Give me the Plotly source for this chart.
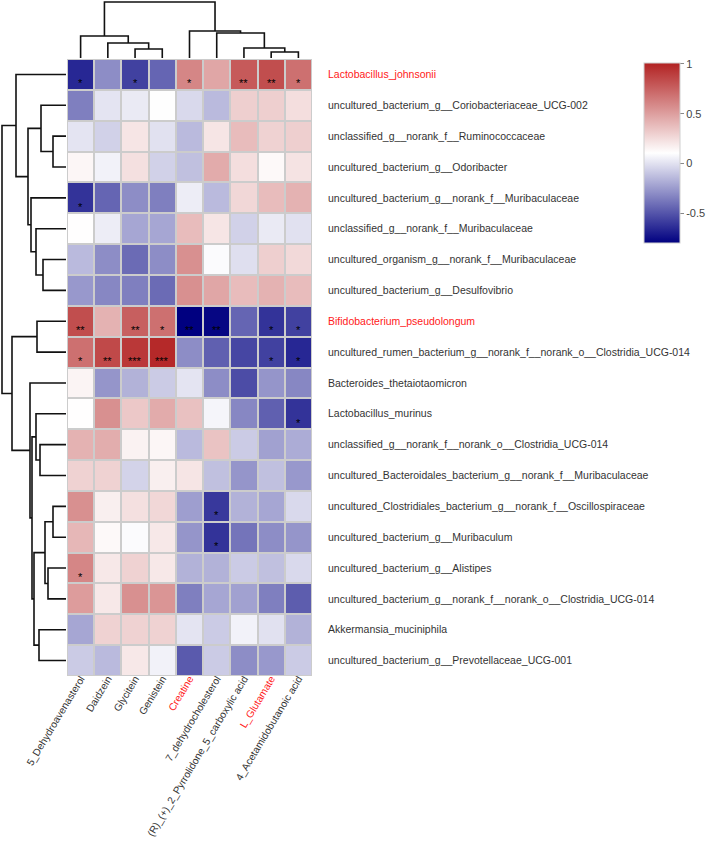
import plotly.graph_objects as go

# --- Data ---
col_labels = [
    "5_Dehydroavenasterol", "Daidzein", "Glycitein", "Genistein", "Creatine",
    "7_dehydrocholesterol", "(R)_(+)_2_Pyrrolidone_5_carboxylic acid",
    "L_Glutamate", "4_Acetamidobutanoic acid",
]
row_labels = [
    "Lactobacillus_johnsonii",
    "uncultured_bacterium_g__Coriobacteriaceae_UCG-002",
    "unclassified_g__norank_f__Ruminococcaceae",
    "uncultured_bacterium_g__Odoribacter",
    "uncultured_bacterium_g__norank_f__Muribaculaceae",
    "unclassified_g__norank_f__Muribaculaceae",
    "uncultured_organism_g__norank_f__Muribaculaceae",
    "uncultured_bacterium_g__Desulfovibrio",
    "Bifidobacterium_pseudolongum",
    "uncultured_rumen_bacterium_g__norank_f__norank_o__Clostridia_UCG-014",
    "Bacteroides_thetaiotaomicron",
    "Lactobacillus_murinus",
    "unclassified_g__norank_f__norank_o__Clostridia_UCG-014",
    "uncultured_Bacteroidales_bacterium_g__norank_f__Muribaculaceae",
    "uncultured_Clostridiales_bacterium_g__norank_f__Oscillospiraceae",
    "uncultured_bacterium_g__Muribaculum",
    "uncultured_bacterium_g__Alistipes",
    "uncultured_bacterium_g__norank_f__norank_o__Clostridia_UCG-014",
    "Akkermansia_muciniphila",
    "uncultured_bacterium_g__Prevotellaceae_UCG-001",
]
red_rows = ["Lactobacillus_johnsonii", "Bifidobacterium_pseudolongum"]
red_cols = ["Creatine", "L_Glutamate"]

corr = [
    [-0.66, -0.30, -0.57, -0.44, 0.60, 0.47, 0.78, 0.83, 0.69],
    [-0.35, 0.01, 0.03, 0.10, -0.03, -0.14, 0.30, 0.30, 0.24],
    [0.01, -0.06, 0.21, 0.00, -0.14, 0.21, 0.38, 0.29, 0.30],
    [0.14, 0.06, 0.23, -0.06, -0.12, 0.45, 0.24, 0.13, 0.22],
    [-0.62, -0.44, -0.30, -0.35, 0.04, -0.14, 0.27, 0.38, 0.42],
    [0.11, 0.04, -0.21, -0.21, 0.38, 0.21, -0.06, 0.03, 0.00],
    [-0.14, -0.30, -0.42, -0.30, 0.56, 0.09, -0.01, 0.30, 0.26],
    [-0.26, -0.32, -0.35, -0.42, 0.56, 0.47, 0.38, 0.42, 0.38],
    [0.83, 0.42, 0.76, 0.69, -0.80, -0.78, -0.44, -0.62, -0.57],
    [0.69, 0.85, 0.92, 0.98, -0.30, -0.46, -0.55, -0.57, -0.66],
    [0.15, -0.27, -0.17, -0.08, 0.01, -0.30, -0.53, -0.27, -0.32],
    [0.11, 0.56, 0.33, 0.45, 0.36, 0.07, -0.32, -0.46, -0.62],
    [0.42, 0.44, 0.16, 0.14, -0.14, 0.35, -0.08, -0.23, -0.19],
    [0.29, 0.29, -0.05, 0.17, 0.21, -0.12, -0.27, -0.12, -0.26],
    [0.56, 0.17, 0.23, 0.27, -0.24, -0.60, -0.17, -0.21, -0.03],
    [0.40, 0.13, 0.09, 0.20, -0.27, -0.62, -0.39, -0.30, -0.27],
    [0.60, 0.20, 0.29, 0.20, -0.17, -0.17, -0.08, -0.12, -0.03],
    [0.51, 0.20, 0.56, 0.54, -0.35, -0.21, -0.23, -0.35, -0.47],
    [-0.21, 0.29, 0.29, 0.29, 0.01, -0.08, 0.06, 0.00, -0.17],
    [-0.08, -0.14, 0.20, 0.06, -0.48, -0.08, -0.30, -0.26, -0.08],
]

# significance marks: (row, col, text)
stars = [
    (0, 0, "*"), (0, 2, "*"), (0, 4, "*"), (0, 6, "**"), (0, 7, "**"), (0, 8, "*"),
    (4, 0, "*"),
    (8, 0, "**"), (8, 2, "**"), (8, 3, "*"), (8, 4, "**"), (8, 5, "**"), (8, 7, "*"), (8, 8, "*"),
    (9, 0, "*"), (9, 1, "**"), (9, 2, "***"), (9, 3, "***"), (9, 7, "*"), (9, 8, "*"),
    (11, 8, "*"),
    (14, 5, "*"),
    (15, 5, "*"),
    (16, 0, "*"),
]

# clustering trees: (left, right, height), leaves are indices
col_tree = ((0, (1, (2, 3, 9), 15), 22), (4, (5, (6, (7, 8, 6), 10), 25), 27), 56)
row_tree = (
    (0, ((1, (2, 3, 13), 25), (4, (5, (6, 7, 23), 30), 35), 38), 50),
    ((8, 9, 29),
     (10, ((11, (12, 13, 26), 30),
           (((14, 15, 13), (16, 17, 18), 21), (18, 19, 27), 32), 34), 36), 54),
    64,
)

W, H = 709, 847
FONT = "Arial, Liberation Sans, sans-serif"


def dendro_segments(node, xs, ys):
    """Walks the tree and collects elbow segments (leaf pos, height)."""
    if isinstance(node, int):
        return float(node), 0.0
    left, right, h = node
    lp, lh = dendro_segments(left, xs, ys)
    rp, rh = dendro_segments(right, xs, ys)
    xs += [lp, lp, rp, rp, None]
    ys += [lh, h, h, rh, None]
    return (lp + rp) / 2, h


def color_label(text, reds):
    if text in reds:
        return f"<span style='color:#ff2020'>{text}</span>"
    return text


# pixel layout
hm_x0, hm_x1 = 67, 312
hm_y0, hm_y1 = 59, 676
n_cols, n_rows = len(col_labels), len(row_labels)

fig = go.Figure()

fig.add_trace(go.Heatmap(
    z=corr,
    x=list(range(n_cols)),
    y=list(range(n_rows)),
    zmin=-0.8, zmax=1.01,
    colorscale=[[0, "#000080"], [0.5, "#ffffff"], [1, "#b22222"]],
    xgap=2, ygap=2,
    hoverinfo="skip",
    colorbar=dict(
        x=644 / W, xanchor="left", xpad=0,
        y=1 - 153 / H, yanchor="middle", ypad=0,
        len=180, lenmode="pixels",
        thickness=36, thicknessmode="pixels",
        outlinewidth=1, outlinecolor="#d0d0d0",
        tickvals=[-0.5, 0, 0.5, 1],
        ticktext=["-0.5", "0", "0.5", "1"],
        ticks="outside", ticklen=4, tickcolor="#888",
        tickfont=dict(family=FONT, size=11, color="#444"),
    ),
))

cx, cy = [], []
dendro_segments(col_tree, cx, cy)
fig.add_trace(go.Scatter(x=cx, y=cy, mode="lines", xaxis="x2", yaxis="y2",
                         line=dict(color="#111", width=1.6), hoverinfo="skip"))

ry, rx = [], []
dendro_segments(row_tree, ry, rx)
fig.add_trace(go.Scatter(x=rx, y=ry, mode="lines", xaxis="x3", yaxis="y3",
                         line=dict(color="#111", width=1.6), hoverinfo="skip"))

for r, c, t in stars:
    fig.add_annotation(x=c, y=r, text=t, showarrow=False, yshift=-9,
                       font=dict(family=FONT, size=11, color="#000"))

# grey cell borders: background behind the grid plus an outer frame
fig.add_shape(type="rect", x0=-0.5, x1=n_cols - 0.5, y0=-0.5, y1=n_rows - 0.5,
              fillcolor="#cccccc", line=dict(width=0), layer="below",
              xref="x", yref="y")
fig.add_shape(type="rect", x0=-0.5, x1=n_cols - 0.5, y0=-0.5, y1=n_rows - 0.5,
              line=dict(color="#cccccc", width=2), xref="x", yref="y")

hx = [hm_x0 / W, hm_x1 / W]
hy = [1 - hm_y1 / H, 1 - hm_y0 / H]

fig.update_layout(
    width=W, height=H,
    margin=dict(l=0, r=0, t=0, b=0),
    paper_bgcolor="white", plot_bgcolor="white",
    showlegend=False,
    font=dict(family=FONT, size=10.5, color="#333"),
    xaxis=dict(
        domain=hx, range=[-0.5, n_cols - 0.5],
        tickvals=list(range(n_cols)),
        ticktext=[color_label(c, red_cols) for c in col_labels],
        tickangle=-59, showgrid=False, zeroline=False, showline=False,
        ticks="", automargin=False, ticklabelstandoff=-6,
        tickfont=dict(family=FONT, size=10.2, color="#333"),
    ),
    yaxis=dict(
        domain=hy, range=[n_rows - 0.5, -0.5],
        tickvals=list(range(n_rows)),
        ticktext=[color_label(r, red_rows) for r in row_labels],
        side="right", showgrid=False, zeroline=False, showline=False,
        ticks="", ticklabelstandoff=15, automargin=False,
        tickfont=dict(family=FONT, size=10.5, color="#333"),
    ),
    xaxis2=dict(domain=hx, range=[-0.5, n_cols - 0.5], anchor="y2",
                visible=False, fixedrange=True),
    yaxis2=dict(domain=[1 - 58 / H, 1], range=[0, 58], anchor="x2",
                visible=False, fixedrange=True),
    xaxis3=dict(domain=[0, 66 / W], range=[66, 0], anchor="y3",
                visible=False, fixedrange=True),
    yaxis3=dict(domain=hy, range=[n_rows - 0.5, -0.5], anchor="x3",
                visible=False, fixedrange=True),
)

# drop the default 8px body margin so the figure sits at the window origin
fig.write_html("out.html", config={"displayModeBar": False},
               post_script="document.body.style.margin='0px';")
